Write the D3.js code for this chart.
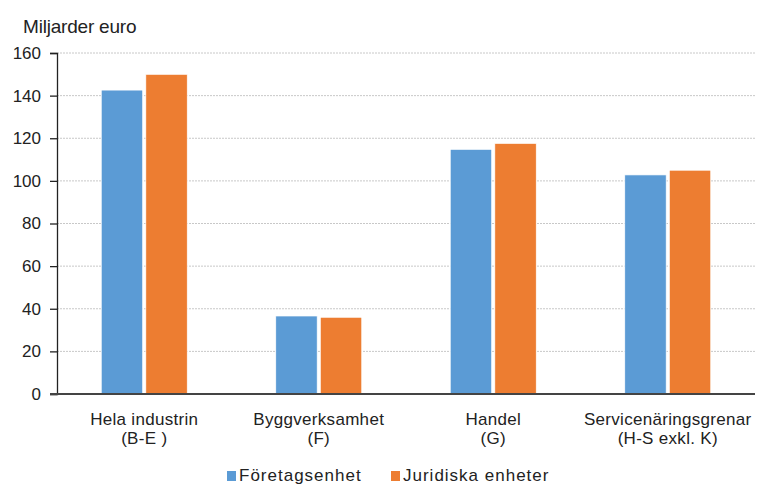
<!DOCTYPE html>
<html>
<head>
<meta charset="utf-8">
<script src="https://cdn.jsdelivr.net/npm/d3@7"></script>
<style>
  body { margin: 0; background: #fff; }
  svg { font-family: "Liberation Sans", Arial, sans-serif; }
</style>
</head>
<body>
<div class="chart"></div>
<script>
const categories = ["Hela industrin|(B-E )", "Byggverksamhet|(F)", "Handel|(G)", "Servicenäringsgrenar|(H-S exkl. K)"]
const seriesNames = ["Företagsenhet", "Juridiska enheter"]
const foretag = [142.6, 36.6, 114.8, 102.8]
const juridiska = [150.0, 36.0, 117.6, 105.0]
const yTicks = [0, 20, 40, 60, 80, 100, 120, 140, 160]
const colors = ["#5b9bd5", "#ed7d31"]

const margin = { top: 53, right: 3, bottom: 91, left: 57 }
const width = 758 - margin.left - margin.right
const height = 485 - margin.top - margin.bottom

const svg = d3.select('.chart')
  .append('svg')
  .attr('width', 758)
  .attr('height', 485)

const g = svg.append('g')
  .attr('transform', `translate(${margin.left},${margin.top})`)

const x = d3.scaleBand().domain(categories).range([0, width])
const xs = d3.scaleBand().domain(seriesNames).range([0, 86]).paddingInner(0.07)
const y = d3.scaleLinear().domain([0, 160]).range([height, 0])

// gridlines
g.append('g')
  .selectAll('line')
  .data(yTicks.filter(d => d > 0))
  .enter()
  .append('line')
  .attr('x1', 0).attr('x2', width)
  .attr('y1', d => y(d)).attr('y2', d => y(d))
  .attr('stroke', '#c8c8c8')
  .attr('stroke-dasharray', '2,1')

// bars
const data = categories.map((c, i) => ({ cat: c, vals: [foretag[i], juridiska[i]] }))
const groups = g.selectAll('.grp')
  .data(data)
  .enter()
  .append('g')
  .attr('transform', d => `translate(${x(d.cat) + x.bandwidth() / 2 - 43},0)`)

groups.selectAll('rect')
  .data(d => d.vals.map((v, j) => ({ v, s: seriesNames[j], j })))
  .enter()
  .append('rect')
  .attr('x', d => xs(d.s))
  .attr('width', xs.bandwidth())
  .attr('y', d => y(d.v))
  .attr('height', d => height - y(d.v))
  .attr('fill', d => colors[d.j])
  .attr('stroke', '#fff')
  .attr('stroke-width', 0.7)

// y axis
const yAxis = g.append('g')
  .call(d3.axisLeft(y).tickValues(yTicks).tickSize(7).tickPadding(9))
yAxis.select('.domain').attr('stroke', '#222').attr('stroke-width', 1.3)
yAxis.selectAll('.tick line').attr('stroke', '#222').attr('stroke-width', 1.3)
yAxis.selectAll('text').attr('font-size', '17px').attr('fill', '#222').attr('font-family', '"Liberation Sans", Arial, sans-serif')

// x axis line
g.append('line')
  .attr('x1', -7).attr('x2', width)
  .attr('y1', height).attr('y2', height)
  .attr('stroke', '#444').attr('stroke-width', 2)

// category labels
const lab = g.append('g').selectAll('text')
  .data(categories)
  .enter()
  .append('text')
  .attr('text-anchor', 'middle')
  .attr('font-size', '17px')
  .attr('fill', '#222')
  .attr('letter-spacing', '0.3px')
lab.append('tspan')
  .attr('x', d => x(d) + x.bandwidth() / 2)
  .attr('y', height + 31)
  .text(d => d.split('|')[0])
lab.append('tspan')
  .attr('x', d => x(d) + x.bandwidth() / 2)
  .attr('y', height + 50)
  .text(d => d.split('|')[1])

// title
svg.append('text')
  .attr('x', 23).attr('y', 33)
  .attr('font-size', '19px')
  .attr('fill', '#222')
  .attr('letter-spacing', '-0.2px')
  .text('Miljarder euro')

// legend
const legX = [227, 391]
const leg = svg.append('g').selectAll('g')
  .data(seriesNames)
  .enter()
  .append('g')
  .attr('transform', (d, i) => `translate(${legX[i]},471)`)
leg.append('rect')
  .attr('width', 9).attr('height', 10)
  .attr('fill', (d, i) => colors[i])
leg.append('text')
  .attr('x', 12).attr('y', 10)
  .attr('font-size', '17px')
  .attr('fill', '#222')
  .attr('letter-spacing', '1px')
  .text(d => d)
</script>
</body>
</html>
